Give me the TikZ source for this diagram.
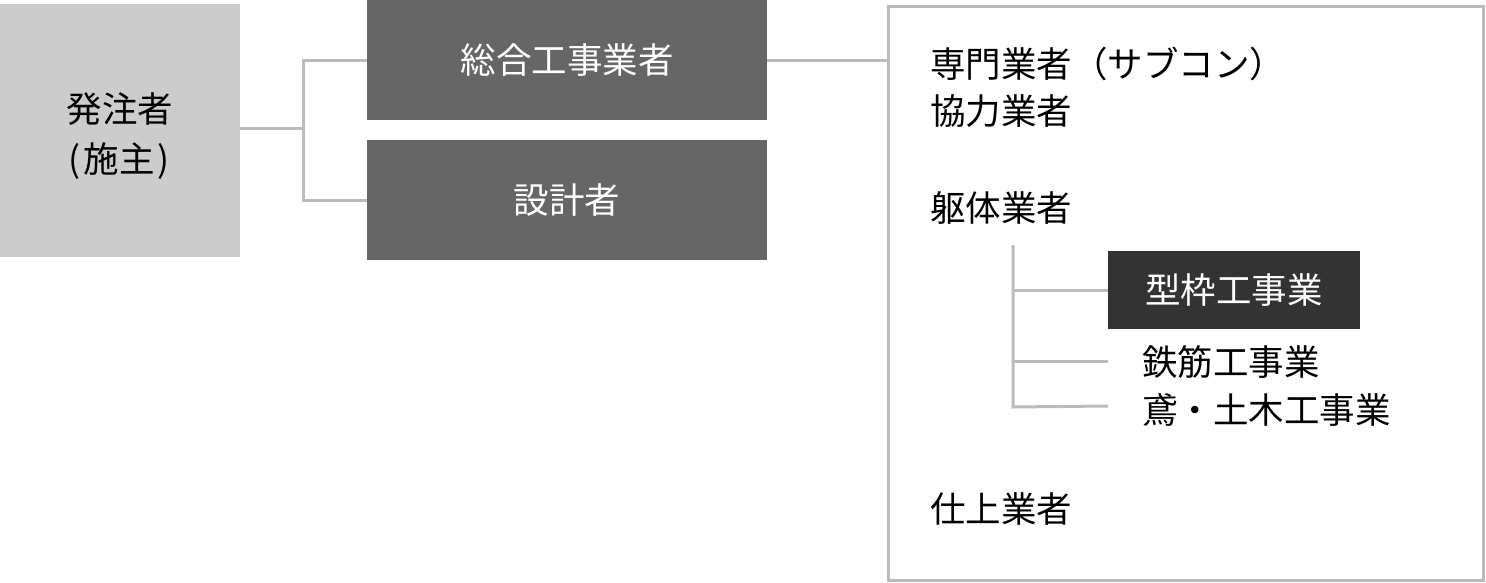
\documentclass[tikz,border=0pt]{standalone}
\usepackage{fontspec}
\setmainfont{Noto Sans CJK JP}
\definecolor{lgray}{HTML}{CCCCCC}
\definecolor{dgray}{HTML}{666666}
\definecolor{vdark}{HTML}{333333}
\definecolor{linec}{HTML}{BBBBBB}
\begin{document}
\begin{tikzpicture}[x=1pt,y=-1pt,
  txt/.style={font=\fontsize{35.5}{44}\selectfont, inner sep=0pt},
  darkbox/.style={fill=dgray, text=white, inner sep=0pt, font=\fontsize{35.5}{44}\selectfont},
  conn/.style={draw=linec, line width=3pt},
  lbl/.style={txt, anchor=west, text=black}]
\useasboundingbox (0,0) rectangle (1486,583);
% left box
\node[fill=lgray, minimum width=240pt, minimum height=253pt, inner sep=0pt, anchor=north west] (own) at (0,4) {};
\node[align=center, inner sep=0pt, font=\fontsize{35.5}{50}\selectfont] (ownt) at ([yshift=-5pt]own.center) {発注者\\\kern-2pt(\kern3pt施主\kern3pt)};
% main contractor and designer
\node[darkbox, minimum width=400pt, minimum height=120pt, anchor=north west] (gc) at (367,0) {\raisebox{-6pt}{総合工事業者}};
\node[darkbox, minimum width=400pt, minimum height=120pt, anchor=north west] (ds) at (367,140) {\raisebox{-7pt}{設計者}};
% outer frame
\node[draw=linec, line width=3pt, minimum width=595pt, minimum height=574pt, inner sep=0pt, anchor=north west] (frame) at (887,5) {};
% connectors
\coordinate (j) at (303,129);
\draw[conn] (own.east |- j) -- (j);
\draw[conn] (gc.west) -| (j) |- (ds.west);
\draw[conn] (gc.east) -- (gc.east -| frame.west);
% texts in frame
\node[lbl] (sp) at (930,64) {専門業者（サブコン）};
\node[lbl] (kr) at (930,111) {協力業者};
\node[lbl] (kt) at (930,208) {躯体業者};
\node[fill=vdark, text=white, inner sep=0pt, minimum width=252pt, minimum height=78pt, anchor=north west,
  font=\fontsize{35.5}{44}\selectfont] (kw) at (1108,251) {\raisebox{-1pt}{型枠工事業}};
\node[lbl] (tk) at (1142,362) {鉄筋工事業};
\node[lbl] (tb) at (1142,410) {鳶・土木工事業};
\node[lbl] (sa) at (930,509) {仕上業者};
% tree
\coordinate (t0) at (1013,245);
\coordinate (t3) at (1013,407);
\coordinate (e2) at (1108,361);
\coordinate (e3) at (1108,406);
\draw[conn] (t0) -- (t3) -- (e3);
\draw[conn] (kw.west -| t0) -- (kw.west);
\draw[conn] (e2 -| t0) -- (e2);
\end{tikzpicture}
\end{document}
